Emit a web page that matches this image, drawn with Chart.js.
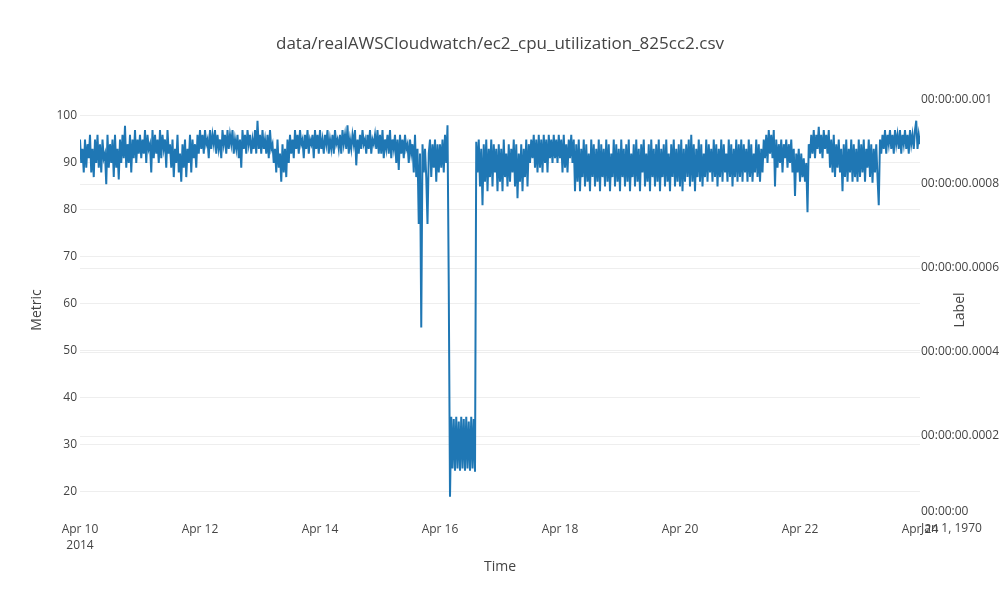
<!DOCTYPE html>
<html>
<head>
<meta charset="utf-8">
<script src="https://cdn.jsdelivr.net/npm/chart.js@4.4.1/dist/chart.umd.min.js"></script>
<style>
  body { margin: 0; background: #fff; }
  #wrap { width: 1000px; height: 600px; }
</style>
</head>
<body>
<div id="wrap"><canvas id="myChart" width="1000" height="600"></canvas></div>
<script>
// half-hourly samples from Apr 10 2014 00:00
const stepHours = 0.5
const cpuValues = [
  // Apr 10
  95, 90, 93, 88, 95, 89, 94, 91, 96, 88, 93, 87, 95, 90, 96, 89, 94, 88, 95, 91, 92, 85.5, 96, 89,
  94, 90, 95, 87, 96, 89, 93, 86.5, 95, 90, 96, 91, 97.9, 89, 94, 90, 96, 88, 95, 91, 97, 90, 95, 92,
  // Apr 11
  96, 91, 95, 92, 97, 90, 96, 93, 94, 88, 97, 91, 96, 92, 95, 90, 97, 91, 96, 93, 95, 89, 97, 92,
  94, 89, 95, 87, 93, 90, 96, 88, 92, 86, 94, 89, 95, 87, 93, 90, 96, 88, 95, 91, 94, 89, 96, 92,
  // Apr 12
  97, 93, 96, 92, 97, 94, 95, 91, 97, 93, 96, 94, 97, 92, 96, 93, 95, 91, 97, 94, 96, 92, 97, 93,
  96, 94, 97, 92, 95, 93, 96, 91, 95, 89, 97, 93, 96, 92, 97, 94, 96, 92, 95, 93, 97, 92, 99, 93,
  // Apr 13
  96, 92, 97, 93, 95, 92, 96, 91, 97, 93, 94, 90, 93, 88, 95, 89, 92, 86, 94, 88, 93, 87, 95, 90,
  96, 92, 95, 91, 97, 93, 96, 92, 97, 94, 95, 91, 96, 93, 97, 92, 95, 94, 96, 91, 97, 93, 96, 92,
  // Apr 14
  97, 93, 95, 92, 96, 94, 97, 92, 95, 93, 96, 92, 97, 94, 95, 93, 96, 92, 97, 94, 96, 93, 98, 92,
  95, 93, 96, 94, 97, 89.5, 95, 92, 96, 93, 97, 94, 95, 92, 96, 93, 97, 92, 95, 94, 96, 93, 97, 92,
  // Apr 15
  96, 92, 97, 91, 95, 93, 96, 92, 97, 91, 95, 93, 96, 90, 95, 88.5, 96, 92, 95, 91, 96, 93, 94, 90,
  95, 92, 94, 88, 96, 87, 93, 77, 92, 55, 94, 88, 93, 87, 77, 92, 95, 87, 94, 89, 95, 86, 94, 88,
  // Apr 16
  94, 89, 95, 88, 96, 90, 98, 64, 19, 36, 25, 35.5, 24.5, 36, 25, 35, 24.5, 36, 25, 35.5, 24.5, 36, 25, 35,
  24.5, 36, 25, 35.5, 24.3, 94.5, 88, 95, 85, 93, 81, 94, 86, 95, 84, 93, 87, 95, 85, 94, 88, 93, 84, 94,
  // Apr 17
  86, 93, 84, 95, 87, 92, 85, 94, 86, 93, 88, 95, 85, 94, 82.5, 92, 86, 94, 84, 93, 87, 95, 85, 94,
  90, 95, 91, 96, 89, 95, 88, 96, 89, 95, 88, 96, 90, 95, 88, 96, 91, 95, 90, 96, 91, 95, 90, 96,
  // Apr 18
  91, 95, 88, 96, 89, 94, 88, 95, 91, 96, 90, 95, 84, 94, 86, 95, 84, 93, 87, 95, 85, 94, 86, 92,
  84, 95, 87, 94, 85, 93, 86, 95, 84, 94, 87, 93, 85, 95, 86, 94, 84, 92, 87, 95, 85, 94, 86, 93,
  // Apr 19
  84, 95, 87, 93, 85, 94, 86, 95, 84, 92, 87, 94, 85, 95, 86, 93, 84, 94, 88, 95, 85, 92, 86, 94,
  84, 95, 87, 93, 85, 94, 86, 95, 84, 93, 87, 94, 85, 95, 86, 92, 84, 94, 87, 95, 85, 93, 86, 94,
  // Apr 20
  85, 95, 84, 93, 86, 94, 87, 95, 85, 96, 86, 94, 84, 93, 87, 95, 86, 94, 85, 92, 87, 95, 86, 94,
  88, 93, 86, 95, 87, 94, 85, 93, 87, 95, 86, 94, 88, 92, 86, 95, 87, 94, 85, 93, 87, 95, 86, 94,
  // Apr 21
  87, 95, 86, 94, 88, 93, 86, 95, 87, 94, 86, 92, 88, 95, 87, 94, 86, 93, 88, 95, 91, 96, 90, 97,
  92, 96, 91, 97, 85, 95, 89, 94, 90, 95, 88, 94, 91, 95, 89, 94, 90, 95, 88, 93, 83, 92, 88, 93,
  // Apr 22
  86, 92, 87, 91, 86, 90, 79.5, 94, 91, 96, 92, 97, 91, 96, 93, 97.7, 92, 96, 91, 97, 93, 96, 92, 97,
  89, 95, 88, 96, 87, 94, 89, 95, 88, 93, 84, 94, 87, 95, 86, 93, 88, 95, 86, 94, 87, 93, 86, 95,
  // Apr 23
  87, 94, 88, 95, 86, 93, 89, 95, 87, 94, 85.8, 93, 88, 94, 87, 81, 95, 92, 96, 93, 97, 92, 96, 94,
  97, 93, 96, 92, 97, 94, 96, 93, 97, 92, 96, 94, 97, 93, 96, 92, 97, 94, 96, 93, 97, 99, 93, 96,
  94
]
const xTickLabels = [['Apr 10', '2014'], 'Apr 12', 'Apr 14', 'Apr 16', 'Apr 18', 'Apr 20', 'Apr 22', 'Apr 24']
const rightTickLabels = [['00:00:00', 'Jan 1, 1970'], '00:00:00.0002', '00:00:00.0004', '00:00:00.0006', '00:00:00.0008', '00:00:00.001']

const textColor = '#444'
const gridColor = '#eeeeee'
const tickFont = { family: '"Open Sans", sans-serif', size: 12, lineHeight: 1.35 }
const titleFont = { family: '"Open Sans", sans-serif', size: 14 }

// right axis title reads bottom-to-top, chart.js would turn it the other way
const labelTitle = {
  id: 'labelTitle',
  afterDraw(chart) {
    const c = chart.ctx
    const area = chart.chartArea
    c.save()
    c.translate(chart.scales.y2.right - 40, (area.top + area.bottom) / 2)
    c.rotate(-Math.PI / 2)
    c.font = '14px "Open Sans", sans-serif'
    c.fillStyle = textColor
    c.textAlign = 'center'
    c.textBaseline = 'middle'
    c.fillText('Label', 0, 0)
    c.restore()
  }
}

const ctx = document.getElementById('myChart')

new Chart(ctx, {
  type: 'line',
  data: {
    datasets: [{
      label: 'value',
      data: cpuValues.map((v, i) => ({ x: i * stepHours, y: v })),
      borderColor: '#1f77b4',
      borderWidth: 2,
      pointRadius: 0,
      tension: 0,
      yAxisID: 'y'
    }]
  },
  options: {
    responsive: false,
    animation: false,
    devicePixelRatio: 1,
    layout: { padding: 0 },
    plugins: {
      legend: { display: false },
      tooltip: { enabled: false },
      title: {
        display: true,
        text: 'data/realAWSCloudwatch/ec2_cpu_utilization_825cc2.csv',
        color: textColor,
        font: { family: '"Open Sans", sans-serif', size: 17, weight: 'normal', lineHeight: 1.2 },
        padding: { top: 34, bottom: 45.6 }
      }
    },
    scales: {
      x: {
        type: 'linear',
        min: 0,
        max: 336,
        grid: { display: false, drawTicks: false },
        border: { display: false },
        ticks: {
          stepSize: 48,
          autoSkip: false,
          maxRotation: 0,
          padding: 1,
          color: textColor,
          font: tickFont,
          callback: v => xTickLabels[Math.round(v / 48)]
        },
        title: { display: true, text: 'Time', color: textColor, font: titleFont, padding: { bottom: 24.6 } },
        afterFit: s => { s.height = 80 }
      },
      y: {
        position: 'left',
        min: 14.04,
        max: 103.4,
        grid: { color: gridColor, drawTicks: false },
        border: { display: false },
        ticks: { stepSize: 10, includeBounds: false, padding: 3, color: textColor, font: tickFont },
        title: { display: true, text: 'Metric', color: textColor, font: titleFont, padding: { top: 28.6 } },
        afterFit: s => { s.width = 80 }
      },
      y2: {
        position: 'right',
        min: 0,
        max: 0.001,
        grid: {
          drawTicks: false,
          color: c => (c.index === 0 || c.index === 5) ? 'rgba(0,0,0,0)' : gridColor
        },
        border: { display: false },
        ticks: {
          stepSize: 0.0002,
          autoSkip: false,
          padding: 1,
          color: textColor,
          font: tickFont,
          callback: v => rightTickLabels[Math.round(v / 0.0002)]
        },
        title: { display: false },
        afterFit: s => { s.width = 80 }
      }
    }
  },
  plugins: [labelTitle]
})
</script>
</body>
</html>
